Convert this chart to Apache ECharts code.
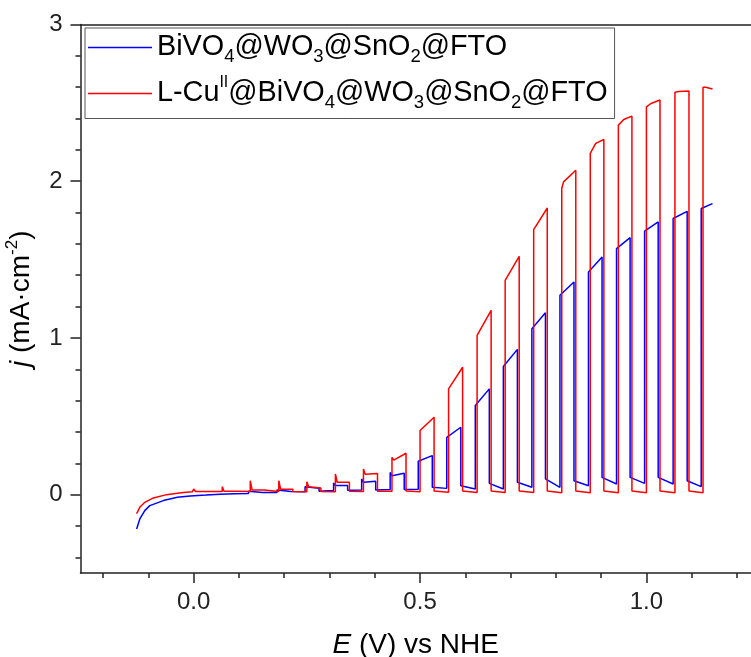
<!DOCTYPE html>
<html>
<head>
<meta charset="utf-8">
<script src="https://cdn.jsdelivr.net/npm/echarts@6/dist/echarts.min.js"></script>
<style>
  html, body { margin: 0; padding: 0; background: #fff; }
  #chart { width: 751px; height: 657px; }
</style>
</head>
<body>
<div id="chart"></div>
<script>
// axis ticks
var xMajorTicks = [0, 0.5, 1.0];
var xMinorTicks = [-0.2, -0.1, 0.1, 0.2, 0.3, 0.4, 0.6, 0.7, 0.8, 0.9, 1.1, 1.2];
var yMajorTicks = [0, 1, 2, 3];
var yMinorTicks = [-0.4, -0.2, 0.2, 0.4, 0.6, 0.8, 1.2, 1.4, 1.6, 1.8, 2.2, 2.4, 2.6, 2.8];

var seriesNames = ['BiVO₄@WO₃@SnO₂@FTO', 'L-Cuᴵᴵ@BiVO₄@WO₃@SnO₂@FTO'];

// blue: BiVO4@WO3@SnO2@FTO  (E in V vs NHE, j in mA/cm2)
var blueStartE = [-0.126, -0.119, -0.108, -0.097, -0.067, -0.036, -0.008];
var blueStartJ = [-0.219, -0.155, -0.102, -0.070, -0.038, -0.017, -0.008];
var blueOn  = [-0.004, 0.059, 0.121, 0.184, 0.246, 0.309, 0.371, 0.434, 0.496, 0.559, 0.622, 0.684, 0.747, 0.809, 0.872, 0.934, 0.996, 1.059, 1.121];
var blueOff = [0.027, 0.090, 0.152, 0.215, 0.277, 0.340, 0.402, 0.465, 0.527, 0.590, 0.653, 0.715, 0.777, 0.840, 0.902, 0.964, 1.026, 1.090, 1.146];
var bluePeak = [0.004, 0.014, 0.022, 0.030, 0.051, 0.075, 0.100, 0.142, 0.213, 0.366, 0.569, 0.818, 1.059, 1.272, 1.420, 1.570, 1.682, 1.762, 1.826];
var blueMid  = [null, null, null, null, 0.040, 0.058, 0.079, 0.121, null, null, null, null, null, null, null, null, null, null, null];
var blueMidDE = 0.004;
var blueEnd  = [-0.003, 0.006, 0.013, 0.020, 0.040, 0.058, 0.085, 0.136, 0.249, 0.430, 0.675, 0.927, 1.161, 1.357, 1.516, 1.640, 1.740, 1.808, 1.857];
var blueDarkStart = [-0.008, 0.000, 0.008, 0.015, 0.022, 0.028, 0.030, 0.033, 0.047, 0.057, 0.072, 0.079, 0.100, 0.089, 0.110, 0.110, 0.110, 0.089];
var blueDarkEnd   = [0.002, 0.008, 0.013, 0.019, 0.026, 0.030, 0.033, 0.034, 0.040, 0.036, 0.036, 0.047, 0.047, 0.057, 0.068, 0.072, 0.068, 0.051];

// red: L-CuII@BiVO4@WO3@SnO2@FTO
var redStartE = [-0.126, -0.119, -0.108, -0.089, -0.060, -0.023, -0.003];
var redStartJ = [-0.121, -0.081, -0.049, -0.021, 0.000, 0.013, 0.018];
var redOn  = [0.000, 0.063, 0.125, 0.188, 0.250, 0.313, 0.375, 0.438, 0.500, 0.563, 0.626, 0.688, 0.751, 0.813, 0.876, 0.938, 1.000, 1.063, 1.125];
var redOff = [0.031, 0.094, 0.156, 0.219, 0.281, 0.344, 0.406, 0.469, 0.531, 0.594, 0.657, 0.719, 0.781, 0.844, 0.906, 0.968, 1.030, 1.094, 1.146];
var redPeak = [0.036, 0.051, 0.089, 0.089, 0.083, 0.132, 0.164, 0.238, 0.409, 0.675, 1.016, 1.367, 1.691, 1.955, 2.177, 2.358, 2.475, 2.567, 2.599];
var redMid  = [0.020, 0.022, 0.030, 0.035, 0.051, 0.079, 0.130, 0.220, null, null, null, null, null, 1.996, 2.241, 2.394, 2.496, 2.572, 2.600];
var redMidDE = [0.004, 0.004, 0.004, 0.004, 0.004, 0.004, 0.004, 0.004, 0, 0, 0, 0, 0, 0.004, 0.012, 0.012, 0.010, 0.008, 0.006];
var redEnd  = [0.020, 0.022, 0.030, 0.035, 0.043, 0.079, 0.135, 0.264, 0.494, 0.813, 1.176, 1.521, 1.829, 2.070, 2.266, 2.415, 2.518, 2.575, 2.588];
var redDarkStart = [0.013, 0.015, 0.018, 0.020, 0.020, 0.021, 0.021, 0.024, 0.024, 0.024, 0.024, 0.024, 0.024, 0.024, 0.024, 0.024, 0.024, 0.024];
var redDarkEnd   = [0.020, 0.020, 0.020, 0.019, 0.019, 0.020, 0.021, 0.018, 0.015, 0.014, 0.013, 0.013, 0.012, 0.012, 0.012, 0.012, 0.012, 0.012];

// chopped-light trace: start curve, then for every light pulse: on-jump, top, off-drop, dark
function buildTrace(startE, startJ, on, off, peak, mid, midDE, end, darkStart, darkEnd) {
  var pts = [];
  for (var i = 0; i < startE.length; i++) pts.push([startE[i], startJ[i]]);
  for (var k = 0; k < on.length; k++) {
    if (k > 0) pts.push([on[k], darkEnd[k - 1]]);
    pts.push([on[k], peak[k]]);
    if (mid[k] != null) {
      var de = Array.isArray(midDE) ? midDE[k] : midDE;
      pts.push([on[k] + de, mid[k]]);
    }
    pts.push([off[k], end[k]]);
    if (k < darkStart.length) pts.push([off[k], darkStart[k]]);
  }
  return pts;
}

var blueData = buildTrace(blueStartE, blueStartJ, blueOn, blueOff, bluePeak, blueMid, blueMidDE, blueEnd, blueDarkStart, blueDarkEnd);
var redData = buildTrace(redStartE, redStartJ, redOn, redOff, redPeak, redMid, redMidDE, redEnd, redDarkStart, redDarkEnd);

var FONT = '"Liberation Sans", Arial, sans-serif';
var INK = '#222';

var legendRich = {
  n: { fontSize: 28.8, fontFamily: FONT, color: '#000', lineHeight: 38 },
  sub: { fontSize: 18.5, fontFamily: FONT, color: '#000', lineHeight: 22, verticalAlign: 'bottom' },
  sup: { fontSize: 16, fontFamily: FONT, color: '#000', lineHeight: 28, verticalAlign: 'top' }
};
var legendText = {};
legendText[seriesNames[0]] = '{n|BiVO}{sub|4}{n|@WO}{sub|3}{n|@SnO}{sub|2}{n|@FTO}';
legendText[seriesNames[1]] = '{n|L-Cu}{sup|II}{n|@BiVO}{sub|4}{n|@WO}{sub|3}{n|@SnO}{sub|2}{n|@FTO}';

var chart = echarts.init(document.getElementById('chart'), null, { renderer: 'canvas' });

var axisLineStyle = { color: INK, width: 1.5 };
var xMin = -0.25, xMax = 1.231, yMin = -0.5, yMax = 3;

var option = {
  animation: false,
  backgroundColor: '#fff',
  grid: [
    { left: 80.5, top: 24.5, right: 0, bottom: 84, containLabel: false, outerBoundsMode: 'none' },
    { left: 80.5, top: 24.5, right: 0, bottom: 84, containLabel: false, outerBoundsMode: 'none' }
  ],
  legend: {
    show: true,
    orient: 'vertical',
    left: 85,
    top: 28,
    padding: [5, 7, 6, 3],
    icon: 'rect',
    itemWidth: 64,
    itemHeight: 1.5,
    itemGap: 8,
    itemTextGap: 10,
    borderColor: '#555',
    borderWidth: 1,
    data: seriesNames,
    formatter: function (name) { return legendText[name]; },
    textStyle: { fontSize: 28.8, fontFamily: FONT, color: '#000', rich: legendRich }
  },
  xAxis: [
    {
      gridIndex: 0, type: 'value', position: 'bottom', min: xMin, max: xMax,
      axisLine: { show: true, onZero: false, lineStyle: axisLineStyle },
      axisTick: { show: true, customValues: xMajorTicks, length: 10, lineStyle: axisLineStyle },
      axisLabel: {
        show: true, customValues: xMajorTicks, margin: 17, fontSize: 24, fontFamily: FONT, color: INK,
        formatter: function (v) { return v.toFixed(1); }
      },
      splitLine: { show: false },
      name: '{i|E} (V) vs NHE',
      nameLocation: 'middle',
      nameGap: 55,
      nameTextStyle: {
        fontSize: 28, fontFamily: FONT, color: '#000', lineHeight: 34,
        rich: { i: { fontSize: 28, fontFamily: FONT, color: '#000', fontStyle: 'italic', lineHeight: 34 } }
      }
    },
    {
      gridIndex: 0, type: 'value', position: 'top', min: xMin, max: xMax,
      axisLine: { show: true, onZero: false, lineStyle: axisLineStyle },
      axisTick: { show: false }, axisLabel: { show: false }, splitLine: { show: false }
    },
    {
      gridIndex: 1, type: 'value', position: 'bottom', min: xMin, max: xMax,
      axisLine: { show: false, onZero: false },
      axisTick: { show: true, customValues: xMinorTicks, length: 5, lineStyle: axisLineStyle },
      axisLabel: { show: false }, splitLine: { show: false }
    }
  ],
  yAxis: [
    {
      gridIndex: 0, type: 'value', position: 'left', min: yMin, max: yMax,
      axisLine: { show: true, onZero: false, lineStyle: axisLineStyle },
      axisTick: { show: true, customValues: yMajorTicks, length: 10, lineStyle: axisLineStyle },
      axisLabel: {
        show: true, customValues: yMajorTicks, margin: 18, fontSize: 24, fontFamily: FONT, color: INK,
        formatter: function (v) { return String(v); }
      },
      splitLine: { show: false },
      name: '{i|j} (mA·cm{sup|-2})',
      nameLocation: 'middle',
      nameGap: 34,
      nameRotate: 90,
      nameTextStyle: {
        fontSize: 28, fontFamily: FONT, color: '#000', lineHeight: 34,
        rich: {
          i: { fontSize: 28, fontFamily: FONT, color: '#000', fontStyle: 'italic', lineHeight: 34 },
          sup: { fontSize: 17, fontFamily: FONT, color: '#000', lineHeight: 26, verticalAlign: 'top' }
        }
      }
    },
    {
      gridIndex: 1, type: 'value', position: 'left', min: yMin, max: yMax,
      axisLine: { show: false, onZero: false },
      axisTick: { show: true, customValues: yMinorTicks, length: 5, lineStyle: axisLineStyle },
      axisLabel: { show: false }, splitLine: { show: false }
    }
  ],
  series: [
    {
      name: seriesNames[0], type: 'line', xAxisIndex: 0, yAxisIndex: 0,
      data: blueData, showSymbol: false, symbol: 'none',
      color: '#0000ff', lineStyle: { color: '#0000ff', width: 1.5 }
    },
    {
      name: seriesNames[1], type: 'line', xAxisIndex: 0, yAxisIndex: 0,
      data: redData, showSymbol: false, symbol: 'none',
      color: '#ff0000', lineStyle: { color: '#ff0000', width: 1.5 }
    }
  ]
};

chart.setOption(option);
</script>
</body>
</html>
